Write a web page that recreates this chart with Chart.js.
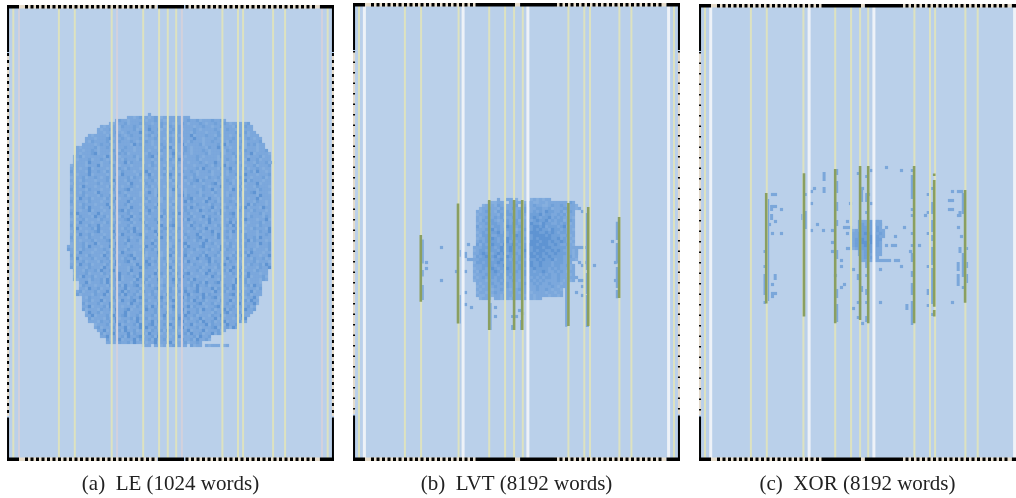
<!DOCTYPE html>
<html>
<head>
<meta charset="utf-8">
<script src="https://cdn.jsdelivr.net/npm/chart.js@4"></script>
<style>
body { margin: 0; background: #fff; width: 1016px; height: 498px; overflow: hidden; position: relative; }
canvas { position: absolute; filter: blur(0.45px); }
</style>
</head>
<body>
<canvas id="le" width="327" height="493" style="left:7px;top:5px"></canvas>
<canvas id="lvt" width="327" height="495" style="left:353px;top:3px"></canvas>
<canvas id="xor" width="317" height="494" style="left:699px;top:4px"></canvas>
<script>
// heat cells: one string per row, digit = heat level, "." = empty
const leFirstRow = 36;
const leRowFrom = [47,40,36,34,31,30,30,27,26,26,25,23,23,23,22,22,22,21,21,21,21,21,21,21,21,21,21,21,21,21,21,21,21,21,21,21,21,21,21,21,21,21,21,21,20,20,21,21,21,21,21,21,22,22,22,22,24,24,24,23,23,25,25,25,25,25,26,26,27,27,29,29,30,31,31,33,33,45];
const leRowCells = [
"2",
"221232212321232232122",
"2322122223122322122232123223122232232",
"21222312223322122323212232122232122322321222223",
"212222132223212232223123223222212232212232221322322",
"2122322122223122242231222323122232122223212322122222",
"22122232123222421232222132232221322212223122223223122",
"212222132232123222223123222213222241222322132221223221222",
"22212223412232122232122322123223122242212223212223212232122",
"21322223122322232122321222213223221322212232222132223122223",
"2222123223122222142322212232212224122223122223141222221323122",
"212222312232122232212232221223241222321222213224222122321222122",
"2212232122223213222122321222322231223212223212222132222132221223",
"21222341222122323122222132231222421322122223122231223212224122221",
"223122222214223122223122234122221322212223212222132221322212223122",
"212223122321223213222132221223213224122223122222122321222142231222",
"2222142221223122241322212231222321322212223212242221223122221322312",
"1322212224122232122212223213222132231222212223213224122223122312223",
"2221224122221222321322213222122321322212223142222132241222312232122",
"3122214223213222132221223412222132221322321222312222132221223142212",
"2212224122221223142222132241222314223122231222212232122321422212223",
"1222312232123221222313222132221223122232132221322312222132221222312",
"2221322212223142221322213223122221322212234132221222321222413222122",
"1322212223122213222142221322212232132221322212234122231223122241222",
"2221422212221322212232122231222132241222212232122242212231222132221",
"3122213222122231223412223122132221422212222132241222214223122213222",
"2221322214222122321222212242132221222312223122213222122231223412221",
"1222312221322312223122213222142221223413222132221222132231222214222",
"2214223122213224122231222312221322212223412221422132221222212241222",
"3122213222122231222412222132221222122241322214223122232122222132212",
"2221322212224122223122213222142221322122213222132231222312241322212",
"1222314222122413222142221322312222132231422212241222312223412221422",
"2221224122212222341322212241222312222132221422312241222132221322212",
"3142221224122231222312232132221322314223122212223142234122212223122",
"2213222142231222132241222212224132221222312241322212223122213222132",
"1222312221322212223412231222312221322314222122413222132221422212241",
"2214222122213223122231224122241222312222132221422212241322212223122",
"3122213224122231222312221322214223412221422312221322314222122213222",
"2241222314222122213224122231222341223122231224122231222312221322214",
"1322212234122241222314222122413222132221222312241222314223122213224",
"2214223122212223142222341222142231222132224122231422212221322212232",
"3122213222132231222312221322214223122213223412221422312221322314222",
"2221222312223412221422312221322212223122213224122221222122241322212",
"1222312241222314223122213224122231222341222142231222132221322214223",
"21222314222122413222132221422312221322314222341222142231222322212223",
"32221322212232132221322214223122213222132231222312241322212223122213",
"2214222122213223142221224122241222312232122231222312221322314222122",
"3122213222142231222341223122231224122241222314223122213223142221224",
"2241222312223122213224122231222312221322214223412221422312221322312",
"1222312221322314223412221422312221322314222122413222132221222312221",
"2214223122213224122221422341222142231222132221322314222122213223142",
"3122213222142221222132241322212234132221222312221322214223122213224",
"22213223142234122214222122213222132231222312241222314223122213222",
"12223122213222142231224122241322314223412221422312221322314222122",
"22142231222132241222314223122213223142222122214223122213224122231",
"31222132231422341222142231224122241322314222122213222142231222132",
"2241222314222122213224122231222312221322314223412221422312221",
"1322212221322314223412231222312241222314223122213224122231422",
"2214223122213224122231222341223122231224122241322314222122213",
"23122231224122241322314223122213223142234122214223122213224122",
"31222132241222314223122213222142231224122241322212234132231222",
"21322212223122213224122231422312241322314223412221222312241",
"22312241222314223412231222312241222314223122213224122231422",
"31222312241222214223122213224122231222341223122231224122241",
"2241222314222122213223142231224122241322212234122231222312",
"3122213223142234122214223122213224122231422312241322214223",
"14223122213224122231222312241222314223122213223412231222",
"2241222314223412231222312241222314223122213224122231422",
"31222132241222314223122213223142231224122241322212234",
"22213223142231224122241322212234122231422312241222312",
"122231224122231422341223142231224122241322314223",
"231222312241222414223122213224122231222341223142",
"2241222314223122213223142231224122241222312",
"31224122241322314223122213223142231224132",
"2241222314223412231422312241222314223",
"31224122241322314223122213223142231",
"22213223142231224122241222312232",
"122.2212.231222.3122.21222.12"
];

const lvtFirstRow = 65;
const lvtRowFrom = [51,45,43,42,41,41,41,41,41,41,41,41,41,41,41,41,40,40,40,40,40,40,40,40,40,40,40,40,41,41,41,41,41,42];
const lvtRowCells = [
"2211....1212122",
"211221.2222112211221222222232",
"122213212223.1222322112322321221",
"1223221322232223122332231222332212",
"212322132232123.32232324332231232",
"122232213233223122333423322323122",
"212322323122323212343233423232221",
"213233212332231223234334232331232",
"122323322132332222433243322323212",
"312232332143323123344342333234122",
"222334232233312332343433243323221",
"123233342323323223444334343233222",
"213342233323243323344443433322312",
"122334323243233233343444433423221",
"232343323342323322444344343343212",
"313234332433432234443444334322321",
"2223343234334323234344434433333221",
"12332433243343223443434433434322212",
"22343323434233323344344343343332212",
"13234334233432232334434334333322312",
"22333423343323233243343433423322221",
"133234334323323223343343332333222",
"2223343233433223233433433323322312",
"1223234323343223223343333232322212",
"2132233432333232233323343223232122",
"1222323323232322232333232322322212",
"2123223233223222323232323322322122",
"1222132232322321222323232222321212",
"212223223232212232232322322212",
"121222322232212322223222232122",
"21222122322122322122322321221",
"12212232212222122212222122122",
"21122122122212221221222212212",
"1221.2212212221222122"
];

const xorFirstRow = 72;
const xorRowFrom = [53,53,53,51,51,51,51,51,51,51,53,53,54,54];
const xorRowCells = [
"22223222",
"23233322",
"23333232",
"12233332322",
"22334433232",
"2233344332",
"2334344333",
"2334434332",
"2333443332",
"1233343322",
"22333322",
"22332322",
"232322",
"222222"
];

// stripes of the memory layout, in cell columns
const leYellow = [2.1,17.3,22.6,34.9,45.4,50.7,53.6,56.4,71.8,77,78.7,88.7,92.7,106.9];
const lePink = [4,36.7,58.3,105];
const lvtYellow = [2,17.3,22.7,35.2,45.4,50.7,53.7,56.6,71.8,77.1,79,88.8,92.8,107];
const lvtWhite = [3.8,36.7,58.3,105.2];
const xorYellow = [2,17.3,22.6,34.8,45.4,50.7,53.7,56.4,71.8,77,78.7,88.8,92.9];
const xorWhite = [3.9,36.7,58.3,105.2];

// [column, first row, last row]
const lvtGreen = [[22.6,77.3,99.6],[35,66.8,106.8],[45.4,65.7,109],[53.7,65.7,109],[56.4,65.7,109],[71.8,66.7,107.7],[78.4,68,107.7],[88.7,71.3,98.3]];
const xorGreen = [[22.4,63,99.8],[35,56.4,104.2],[45.4,55,106.4],[53.7,54,105.3],[56.4,54,106.4],[71.7,54,106.4],[78.4,56.5,57.3],[78.4,58.7,100.9],[78.4,102,104.2],[88.7,62,99.6]];

const lvtRuns = [[23.1,78.8,86.8],[23.1,89,91.2],[23.1,94,99],[35.4,82.3,84.6],[35.4,97.3,106.8],[45.7,100,109],[53.2,104,105],[53.2,107.3,109],[56.2,105.7,109],[71.2,91.2,107.9],[78.1,70,81],[78.1,82,89],[78.1,90,97],[78.1,97.3,108],[88.1,72.9,79],[88.1,80,86.8],[88.1,88,95],[88.1,95.7,98.4]];
const lvtSpots = [[29,81],[24,86],[24,88],[29,92],[38,80],[37,83],[37,84],[38,85],[39,85],[34,89],[37,89],[37,96],[37,100],[39,101],[47,101],[47,104],[48,65],[55,102],[56,103],[54,104],[72,68],[73,67],[76,69],[73,81],[74,81],[75,81],[76,81],[77,81],[74,82],[74,83],[75,86],[76,87],[74,91],[76,92],[75,92],[76,94],[74,96],[76,97],[80,87],[77,86],[86,79],[87,86],[87,92]];

const xorRuns = [[41.7,56,59],[41.7,61,63],[24.2,67,69],[24.2,70,72],[25.4,90,92],[22,82,83],[22,87,88],[22,90,97],[22,99,100],[22.9,65,99],[34.6,70,72],[35.4,63,64],[35.4,69,75],[45.9,55,57],[45.9,59,63],[45.9,66,69],[45.9,72,74],[45.9,82,85],[45.9,95,98],[45.9,100,106],[53.1,56,57],[53.1,90,92],[53.1,99,100],[53.1,104,105],[54.2,61,66],[54.2,94,96],[55.9,57,58],[55.9,63,66],[55.9,69,70],[55.9,86,88],[55.9,90,91],[55.9,95,97],[55.9,99,100],[55.9,104,106],[71.1,55,56],[71.1,57,65],[71.1,68,69],[71.1,70,71],[71.1,76,77],[71.1,80,81],[71.1,83,86],[71.1,89,91],[71.1,93,97],[71.1,99,107],[77.9,61,62],[77.9,66,70],[77.9,72,76],[77.9,77,79],[77.9,81,87],[77.9,88,100],[77.9,103,104],[76.4,63,64],[76.4,69,70],[76.4,76,77],[76.4,87,88],[76.4,95,97],[76.4,100,101],[88.1,63,70],[88.1,83,91],[88.1,94,95],[89.2,81,82],[89.2,86,88],[89.2,90,93],[86.4,86,89],[86.4,90,94],[69.3,100,102],[87,69,71],[87,81,83]];
const xorSpots = [[38,61],[37,62],[37,66],[39,73],[37,75],[41,75],[44,75],[44,79],[44,82],[47,85],[47,87],[45,90],[48,93],[47,94],[50,66],[49,72],[48,74],[49,74],[50,74],[49,76],[49,81],[50,81],[51,88],[53,91],[53,99],[51,101],[54,106],[57,55],[62,54],[67,55],[54,61],[56,63],[57,66],[59,72],[60,73],[62,74],[68,74],[61,77],[65,77],[62,80],[64,80],[65,80],[73,80],[70,82],[67,87],[60,88],[60,99],[75,70],[84,62],[87,62],[86,62],[83,65],[84,65],[83,68],[84,68],[86,70],[86,74],[87,77],[84,99],[25,63],[24,63],[25,67],[24,67],[27,68],[25,72],[23,73],[24,76],[27,76],[24,93],[24,97],[25,96],[24,96],[60,85],[61,85],[62,85],[63,85],[65,85],[66,85]];

// frame pieces: [from, to]
const leTopSolid = [[0,4],[50.3,59],[104.3,109]];
const leTopDash = [[6,50],[59.5,103.5]];
const leTopTan = [[4,6],[103.5,104.3]];
const lvtTopSolid = [[0,4],[41,54],[55.7,67],[104.5,109]];
const lvtTopDash = [[6,41],[67,103]];
const lvtTopTan = [[4,6],[54,55.7],[103,104.5]];
const xorTopSolid = [[0,4],[41,54],[55.3,67],[104.3,105.7]];
const xorTopDash = [[6,41],[67,103]];
const xorTopTan = [[4,6],[54,55.3],[103,104.3]];
const sideSolid = [[0,15.7],[137.5,160]];
const sideDash = [[16,137]];

const levelColors = ["#86afdf","#7ca8dc","#70a0d8","#5f94d2"];
const spotColor = "#7ba7da";

function cellSets(firstRow, rowFrom, rowCells) {
  let sets = [[],[],[],[]];
  for (let r = 0; r < rowCells.length; r++) {
    for (let c = 0; c < rowCells[r].length; c++) {
      let ch = rowCells[r][c];
      if (ch == ".") continue;
      sets[Number(ch) - 1].push({x: rowFrom[r] + c + 0.5, y: firstRow + r + 0.5});
    }
  }
  return sets.map(function (pts, i) {
    return {data: pts, pointStyle: "rect", pointRadius: 2.25, pointBorderWidth: 0, backgroundColor: levelColors[i], showLine: false};
  });
}
function lineSet(segments, color, width, dash) {
  let pts = [];
  for (let i = 0; i < segments.length; i++) {
    let s = segments[i];
    pts.push({x: s[0], y: s[1]}, {x: s[2], y: s[3]}, {x: null, y: null});
  }
  return {data: pts, showLine: true, pointRadius: 0, borderColor: color, borderWidth: width, borderDash: dash || []};
}
function columns(list, maxRow) {
  return list.map(function (c) { return [c, 0, c, maxRow]; });
}
function vert(list) {
  return list.map(function (s) { return [s[0], s[1], s[0], s[2]]; });
}
function horiz(list, row) {
  return list.map(function (s) { return [s[0], row, s[1], row]; });
}
function side(list, col) {
  return list.map(function (s) { return [col, s[0], col, s[1]]; });
}

const backgroundPlugin = {
  id: "panelBackground",
  beforeDatasetsDraw: function (chart) {
    let a = chart.chartArea;
    chart.ctx.fillStyle = "#bad0ea";
    chart.ctx.fillRect(a.left, a.top, a.right - a.left, a.bottom - a.top);
  },
};

function drawPanel(id, caption, maxCol, maxRow, sets) {
  sets.forEach(function (s, i) { s.order = sets.length - i; s.spanGaps = false; });
  new Chart(document.getElementById(id), {
    type: "scatter",
    data: {datasets: sets},
    plugins: [backgroundPlugin],
    options: {
      responsive: false,
      animation: false,
      events: [],
      layout: {autoPadding: false, padding: 0},
      scales: {
        x: {type: "linear", display: false, min: 0, max: maxCol},
        y: {type: "linear", display: false, min: 0, max: maxRow, reverse: true},
      },
      plugins: {
        legend: {display: false},
        tooltip: {enabled: false},
        title: {
          display: true,
          position: "bottom",
          text: caption,
          color: "#222",
          font: {family: "Liberation Serif", size: 21, weight: "normal"},
          padding: {top: 10.4, bottom: 1.4},
        },
      },
    },
  });
}

function frameSets(topSolid, topDash, topTan, maxCol, maxRow, sideBlack, rightSide) {
  let sets = [];
  let rows = [0.6, maxRow - 0.6];
  for (let i = 0; i < 2; i++) {
    sets.push(lineSet(horiz(topDash.concat(topTan), rows[i]), "#e6dccb", 3.5));
    sets.push(lineSet(horiz(topDash, rows[i]), "#000", 3.5, [3, 2.5]));
    sets.push(lineSet(horiz(topSolid, rows[i]), "#000", 3.5));
  }
  let cols = rightSide ? [0.35, maxCol - 0.35] : [0.35];
  for (let i = 0; i < cols.length; i++) {
    sets.push(lineSet(side(sideDash, cols[i]), "#e6dccb", 2));
    sets.push(lineSet(side(sideDash, cols[i]), "#000", 2, sideBlack));
    sets.push(lineSet(side(sideSolid, cols[i]), "#000", 2));
  }
  return sets;
}

drawPanel("le", "(a)  LE (1024 words)", 109, 152,
  cellSets(leFirstRow, leRowFrom, leRowCells).concat([
    lineSet(columns(leYellow, 152), "#dde2c0", 2),
    lineSet(columns(lePink, 152), "#d3d1dc", 2),
  ], frameSets(leTopSolid, leTopDash, leTopTan, 109, 152, [3, 4], true)));

drawPanel("lvt", "(b)  LVT (8192 words)", 109, 152.67,
  cellSets(lvtFirstRow, lvtRowFrom, lvtRowCells).concat([
    lineSet(vert(lvtRuns), spotColor, 3),
    {data: lvtSpots.map(function (p) { return {x: p[0] + 0.5, y: p[1] + 0.5}; }), pointStyle: "rect", pointRadius: 2.25, pointBorderWidth: 0, backgroundColor: spotColor},
    lineSet(columns(lvtYellow, 152.67), "#dde2c0", 2),
    lineSet(columns(lvtWhite, 152.67), "#eef2f8", 3),
    lineSet(vert(lvtGreen), "#8a9f60", 2.6),
  ], frameSets(lvtTopSolid, lvtTopDash, lvtTopTan, 109, 152.67, [1.5, 9], true)));

drawPanel("xor", "(c)  XOR (8192 words)", 105.67, 152.33,
  cellSets(xorFirstRow, xorRowFrom, xorRowCells).concat([
    lineSet(vert(xorRuns), spotColor, 3),
    {data: xorSpots.map(function (p) { return {x: p[0] + 0.5, y: p[1] + 0.5}; }), pointStyle: "rect", pointRadius: 2.25, pointBorderWidth: 0, backgroundColor: spotColor},
    lineSet(columns(xorYellow, 152.33), "#dde2c0", 2),
    lineSet(columns(xorWhite, 152.33), "#eef2f8", 3),
    lineSet(vert(xorGreen), "#8a9f60", 2.6),
  ], frameSets(xorTopSolid, xorTopDash, xorTopTan, 105.67, 152.33, [1.5, 9], false)));
</script>
</body>
</html>
